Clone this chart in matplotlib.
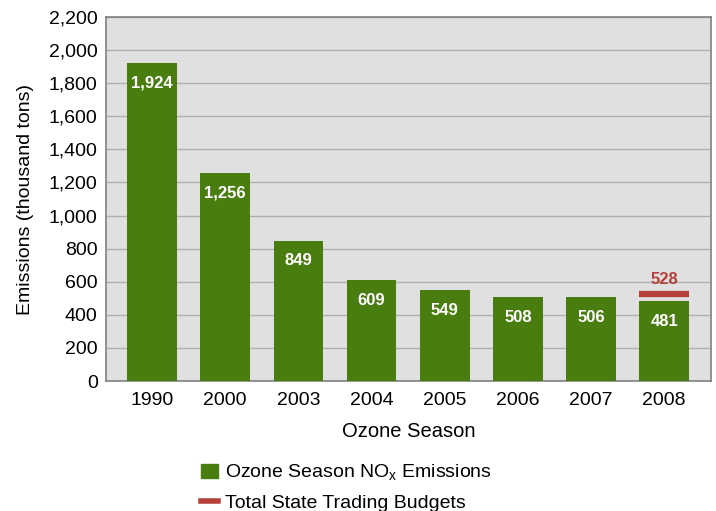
import numpy as np
import matplotlib.pyplot as plt
from matplotlib.lines import Line2D
from matplotlib.patches import Patch

plt.rcParams['font.family'] = ['Liberation Sans', 'DejaVu Sans']

years = ['1990', '2000', '2003', '2004', '2005', '2006', '2007', '2008']
emissions = [1924, 1256, 849, 609, 549, 508, 506, 481]
budget_year = '2008'
budget = 528

green = '#4a7d10'
red = '#b5403a'

fig = plt.figure(figsize=(7.16, 5.11), dpi=100)
ax = fig.add_axes([106/716, 1-381/511, 605/716, 364/511])
ax.set_facecolor('#e0e0e0')

x = np.arange(len(years))
width = 0.68
ax.bar(x, emissions, width=width, color=green, zorder=3)
for xi, v in zip(x, emissions):
	ax.text(xi, v - 122, '{:,}'.format(v), ha='center', va='center', color='white',
		fontsize=12, fontweight='bold', zorder=4)

bi = years.index(budget_year)
ax.plot([bi - width/2, bi + width/2], [budget, budget], color=red, lw=4.5, solid_capstyle='butt', zorder=4)
ax.text(bi, budget + 84, '{:,}'.format(budget), ha='center', va='center', color=red,
	fontsize=12, fontweight='bold', zorder=4)

ax.set_xlim(-0.63, len(years) - 1 + 0.64)
ax.set_ylim(0, 2200)
ax.set_yticks(np.arange(0, 2201, 200))
ax.set_yticklabels(['{:,}'.format(t) for t in range(0, 2201, 200)])
ax.set_xticks(x)
ax.set_xticklabels(years)
ax.tick_params(axis='both', length=0, labelsize=14, pad=6)
ax.tick_params(axis='x', pad=8)
ax.yaxis.grid(True, color='#b0b0b0', lw=1, zorder=0)
for s in ax.spines.values():
	s.set_color('#808080')
	s.set_linewidth(1.2)

ax.set_ylabel('Emissions (thousand tons)', fontsize=14, labelpad=11)
ax.set_xlabel('Ozone Season', fontsize=14.5, labelpad=9)

handles = [Patch(color=green), Line2D([0], [0], color=red, lw=4)]
labels = ['Ozone Season NO$_\\mathregular{x}$ Emissions', 'Total State Trading Budgets']
fig.legend(handles, labels, loc='upper left', bbox_to_anchor=(183/716, 1-445/511), frameon=False,
	fontsize=14, handlelength=0.9, handletextpad=0.35, labelspacing=0.6)

fig.savefig('out.png', dpi=100)
